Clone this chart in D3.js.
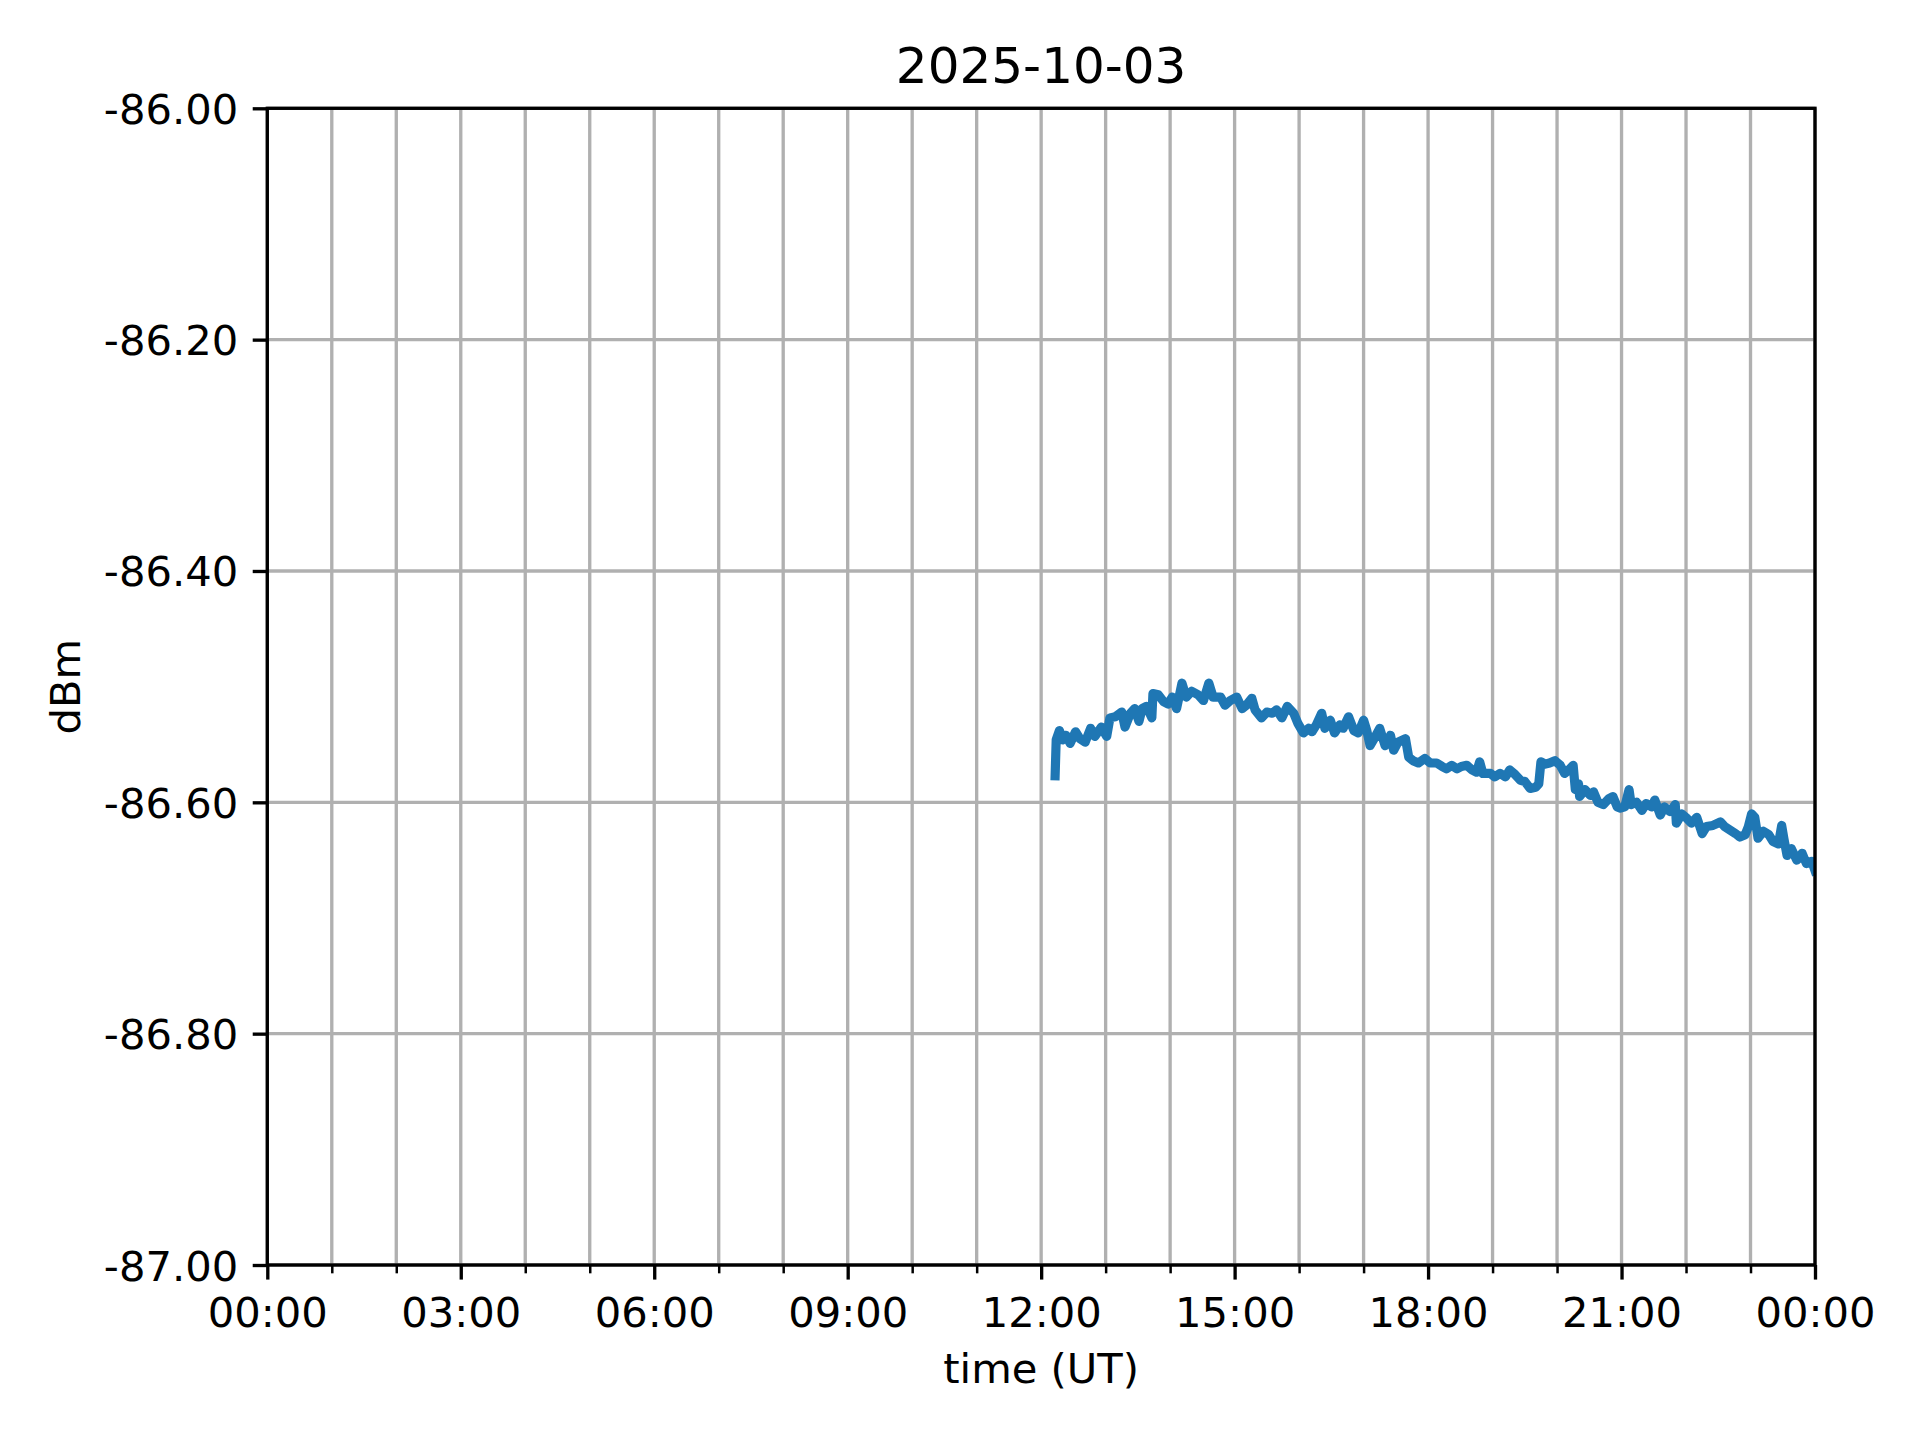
<!DOCTYPE html>
<html>
<head>
<meta charset="utf-8">
<script src="https://cdn.jsdelivr.net/npm/d3@7"></script>
<style>
  html, body { margin: 0; padding: 0; background: #ffffff; }
  svg { display: block; }
  text { font-family: "DejaVu Sans", sans-serif; fill: #000; }
</style>
</head>
<body>
<script>
// ---- data ----
const chartTitle = "2025-10-03";
const xLabel = "time (UT)";
const yLabel = "dBm";

// minutes of the day (UT)
const timesMin = [
  733, 734, 737, 740, 743, 747, 752, 756, 761, 766, 770, 776, 781, 784, 789, 795, 798, 803, 807, 811,
  814, 818, 823, 824, 829, 834, 838, 842, 846, 851, 855, 860, 866, 871, 876, 880, 887, 891, 896, 902,
  907, 911, 916, 919, 925, 930, 935, 939, 944, 949, 955, 959,
  964, 969, 972, 976, 981, 984, 989, 993, 998, 1001, 1006, 1011, 1015, 1020, 1023, 1026, 1031, 1035,
  1040, 1045, 1048, 1052, 1059, 1062, 1066, 1071, 1077, 1082, 1088, 1093, 1097, 1102, 1107, 1111, 1116,
  1121, 1125, 1128, 1131, 1138, 1142, 1147, 1152, 1156, 1161, 1166, 1170, 1175, 1180, 1183, 1185, 1189,
  1193, 1198, 1203, 1207, 1211, 1215, 1217, 1220, 1221, 1226, 1231, 1234, 1238, 1243, 1248, 1252, 1256,
  1259, 1263, 1267, 1269, 1274, 1279, 1283, 1288, 1291, 1296, 1300, 1305, 1310, 1311, 1316, 1321, 1325,
  1330, 1335, 1339, 1345, 1352, 1356, 1361, 1366, 1370, 1375, 1378, 1381, 1384, 1387, 1392, 1397, 1401,
  1406, 1409, 1411, 1414, 1418, 1423, 1428, 1432, 1437, 1440
];
const dbmValues = [
  -86.577, -86.546, -86.538, -86.546, -86.542, -86.549, -86.539, -86.545, -86.548, -86.536, -86.543, -86.535, -86.543, -86.527, -86.526, -86.522, -86.535, -86.523, -86.519, -86.530,
  -86.519, -86.517, -86.527, -86.506, -86.507, -86.513, -86.515, -86.509, -86.519, -86.497, -86.509, -86.504, -86.507, -86.512, -86.497, -86.509, -86.509, -86.516, -86.512, -86.509,
  -86.519, -86.516, -86.510, -86.520, -86.527, -86.522, -86.523, -86.520, -86.527, -86.517, -86.523, -86.532,
  -86.540, -86.536, -86.539, -86.533, -86.523, -86.536, -86.529, -86.540, -86.533, -86.536, -86.526, -86.538, -86.540, -86.529, -86.538, -86.551, -86.543, -86.536,
  -86.551, -86.542, -86.555, -86.548, -86.545, -86.561, -86.564, -86.566, -86.562, -86.566, -86.566, -86.569, -86.571, -86.568, -86.571, -86.569, -86.568,
  -86.572, -86.574, -86.565, -86.575, -86.575, -86.578, -86.575, -86.578, -86.572, -86.576, -86.581, -86.582, -86.588, -86.587, -86.584, -86.565, -86.567,
  -86.566, -86.564, -86.568, -86.575, -86.572, -86.568, -86.589, -86.584, -86.595, -86.589, -86.594, -86.591, -86.600, -86.602, -86.597, -86.595, -86.604,
  -86.605, -86.604, -86.589, -86.602, -86.600, -86.607, -86.601, -86.604, -86.598, -86.611, -86.604, -86.608, -86.602, -86.618, -86.610, -86.614, -86.618,
  -86.613, -86.627, -86.621, -86.620, -86.617, -86.621, -86.624, -86.627, -86.630, -86.628, -86.621, -86.610, -86.613, -86.631, -86.625, -86.628, -86.634,
  -86.636, -86.620, -86.631, -86.646, -86.640, -86.650, -86.644, -86.653, -86.651, -86.659
];

const xMajorTicks = [0, 180, 360, 540, 720, 900, 1080, 1260, 1440];
const xTickLabels = ["00:00", "03:00", "06:00", "09:00", "12:00", "15:00", "18:00", "21:00", "00:00"];
const xMinorTicks = [60, 120, 240, 300, 420, 480, 600, 660, 780, 840, 960, 1020, 1140, 1200, 1320, 1380];
const yTicks = [-87.0, -86.8, -86.6, -86.4, -86.2, -86.0];
const yTickLabels = ["-87.00", "-86.80", "-86.60", "-86.40", "-86.20", "-86.00"];

// ---- layout ----
const W = 1920, H = 1440;
const L = 267.3, R = 1815, T = 108.3, B = 1265;
const PT = 300 / 72; // px per point

const x = d3.scaleLinear().domain([0, 1440]).range([L, R]);
const y = d3.scaleLinear().domain([-87, -86]).range([B, T]);

const svg = d3.select("body").append("svg")
  .attr("width", W).attr("height", H)
  .attr("viewBox", `0 0 ${W} ${H}`);

svg.append("rect").attr("width", W).attr("height", H).attr("fill", "#fff");

// grid
const gridColor = "#b0b0b0";
const gridG = svg.append("g");
gridG.selectAll("line.vx")
  .data(xMajorTicks.concat(xMinorTicks))
  .join("line")
  .attr("x1", d => x(d)).attr("x2", d => x(d))
  .attr("y1", T).attr("y2", B)
  .attr("stroke", gridColor).attr("stroke-width", 0.8 * PT);
gridG.selectAll("line.hy")
  .data(yTicks)
  .join("line")
  .attr("x1", L).attr("x2", R)
  .attr("y1", d => y(d)).attr("y2", d => y(d))
  .attr("stroke", gridColor).attr("stroke-width", 0.8 * PT);

// clip
svg.append("defs").append("clipPath").attr("id", "plotclip")
  .append("rect").attr("x", L).attr("y", T).attr("width", R - L).attr("height", B - T);

// data line
const pts = timesMin.map((t, i) => [t, dbmValues[i]]);
const line = d3.line().x(d => x(d[0])).y(d => y(d[1]));
svg.append("path")
  .attr("clip-path", "url(#plotclip)")
  .attr("d", line(pts))
  .attr("fill", "none")
  .attr("stroke", "#1f77b4")
  .attr("stroke-width", 2.2 * PT)
  .attr("stroke-linejoin", "round")
  .attr("stroke-linecap", "square");

// x axis (major)
const xAxis = d3.axisBottom(x)
  .tickValues(xMajorTicks)
  .tickFormat((d, i) => xTickLabels[i])
  .tickSize(3.5 * PT)
  .tickPadding(3.5 * PT);
const gx = svg.append("g").attr("transform", `translate(0,${B})`).call(xAxis);
gx.select(".domain").remove();
gx.selectAll(".tick line").attr("stroke", "#000").attr("stroke-width", 0.8 * PT);
gx.selectAll(".tick text")
  .attr("font-family", "DejaVu Sans").attr("font-size", 10 * PT)
  .attr("dy", null).attr("y", 62);

// x axis (minor)
const xAxisMinor = d3.axisBottom(x)
  .tickValues(xMinorTicks)
  .tickFormat("")
  .tickSize(2 * PT);
const gxm = svg.append("g").attr("transform", `translate(0,${B})`).call(xAxisMinor);
gxm.select(".domain").remove();
gxm.selectAll(".tick line").attr("stroke", "#000").attr("stroke-width", 0.6 * PT);

// y axis
const yAxis = d3.axisLeft(y)
  .tickValues(yTicks)
  .tickFormat((d, i) => yTickLabels[i])
  .tickSize(3.5 * PT)
  .tickPadding(3.5 * PT);
const gy = svg.append("g").attr("transform", `translate(${L},0)`).call(yAxis);
gy.select(".domain").remove();
gy.selectAll(".tick line").attr("stroke", "#000").attr("stroke-width", 0.8 * PT);
gy.selectAll(".tick text")
  .attr("font-family", "DejaVu Sans").attr("font-size", 10 * PT)
  .attr("dy", null).attr("y", 15);

// spines
svg.append("rect")
  .attr("x", L).attr("y", T).attr("width", R - L).attr("height", B - T)
  .attr("fill", "none").attr("stroke", "#000").attr("stroke-width", 0.8 * PT)
  .attr("stroke-linecap", "square");

// title and labels
svg.append("text")
  .attr("x", (L + R) / 2).attr("y", 83)
  .attr("text-anchor", "middle")
  .attr("font-size", 12 * PT)
  .text(chartTitle);

svg.append("text")
  .attr("x", (L + R) / 2).attr("y", 1383)
  .attr("text-anchor", "middle")
  .attr("font-size", 10 * PT)
  .text(xLabel);

svg.append("text")
  .attr("transform", `translate(80,${(T + B) / 2}) rotate(-90)`)
  .attr("text-anchor", "middle")
  .attr("font-size", 10 * PT)
  .text(yLabel);
</script>
</body>
</html>
